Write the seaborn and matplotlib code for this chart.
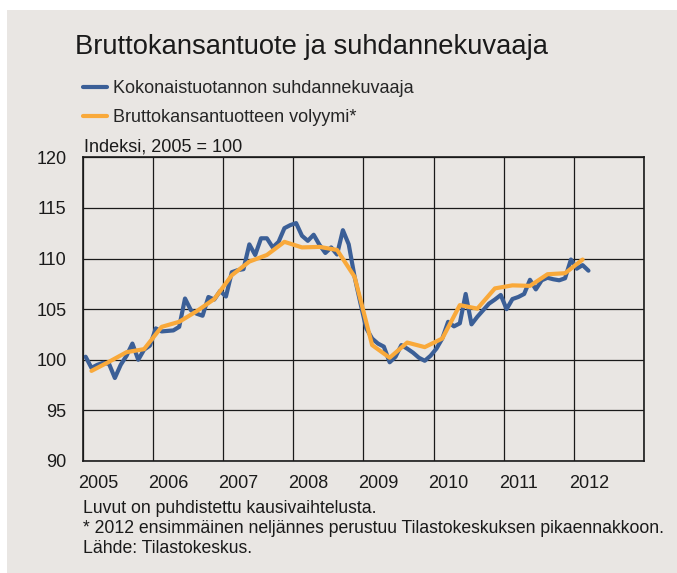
import numpy as np
import pandas as pd
import matplotlib.pyplot as plt
from matplotlib.patches import Rectangle
import seaborn as sns

# Kuukausittainen suhdannekuvaaja, tammikuu 2005 - maaliskuu 2012
suhdanne = [
    100.3, 99.2, 99.5, 99.7, 99.6, 98.2, 99.5, 100.4, 101.6, 100.0, 101.0, 101.4,        # 2005
    103.1, 102.8, 102.85, 102.9, 103.25, 106.05, 104.9, 104.55, 104.35, 106.2, 105.95, 106.8,  # 2006
    106.25, 108.65, 108.85, 108.95, 111.4, 110.35, 112.0, 112.0, 111.1, 111.65, 113.0, 113.3,  # 2007
    113.5, 112.25, 111.75, 112.35, 111.35, 110.55, 111.1, 110.4, 112.8, 111.4, 108.2, 105.6,   # 2008
    103.1, 102.1, 101.6, 101.3, 99.75, 100.3, 101.45, 101.1, 100.7, 100.2, 99.9, 100.4,       # 2009
    101.1, 102.1, 103.75, 103.3, 103.6, 106.5, 103.5, 104.25, 104.9, 105.55, 105.95, 106.4,   # 2010
    105.0, 106.0, 106.2, 106.5, 107.9, 106.95, 107.85, 108.1, 107.95, 107.85, 108.05, 109.9,  # 2011
    109.0, 109.35, 108.8,                                                                     # 2012
]

# Neljännesvuosittainen BKT:n volyymi, 2005Q1 - 2012Q1
bkt = [
    98.9, 99.8, 100.75, 101.05,
    103.25, 103.75, 104.8, 106.0,
    108.35, 109.7, 110.35, 111.65,
    111.1, 111.15, 110.85, 108.2,
    101.45, 100.2, 101.7, 101.25,
    102.1, 105.4, 105.05, 107.05,
    107.35, 107.3, 108.45, 108.55,
    109.9,
]

vuodet = list(range(2005, 2013))
y_ticks = [90, 95, 100, 105, 110, 115, 120]
nimi_sininen = "Kokonaistuotannon suhdannekuvaaja"
nimi_oranssi = "Bruttokansantuotteen volyymi*"

df_kk = pd.DataFrame({"aika": 2005 + (np.arange(len(suhdanne)) + 0.5) / 12, "arvo": suhdanne})
df_nj = pd.DataFrame({"aika": 2005 + (np.arange(len(bkt)) + 0.5) / 4, "arvo": bkt})

sns.set_style("white")
plt.rcParams["font.family"] = ["Liberation Sans", "DejaVu Sans"]

W, H = 677, 573
tausta = "#e9e6e3"
sininen = "#3b5f97"
oranssi = "#f9a93a"
teksti = "#1a1a1a"

fig = plt.figure(figsize=(W / 100, H / 100), dpi=100, facecolor="white")
fig.patches.append(Rectangle((7 / W, 0), 1, 1 - 10 / H, transform=fig.transFigure,
                             facecolor=tausta, edgecolor="none", zorder=-10))

ax = fig.add_axes([82.7 / W, 1 - 461 / H, (644 - 82.7) / W, (461 - 157.3) / H])
ax.set_facecolor(tausta)

sns.lineplot(data=df_kk, x="aika", y="arvo", color=sininen, linewidth=3, ax=ax, label=nimi_sininen)
sns.lineplot(data=df_nj, x="aika", y="arvo", color=oranssi, linewidth=3, ax=ax, label=nimi_oranssi)

ax.set_xlim(2005, 2013)
ax.set_ylim(90, 120)
ax.set_xticks(vuodet + [2013])
ax.set_xticklabels([])
ax.set_xticks([v + 0.215 for v in vuodet], labels=[str(v) for v in vuodet], minor=True)
ax.set_yticks(y_ticks, labels=[str(v) for v in y_ticks])
ax.tick_params(axis="both", which="both", length=0, labelsize=13, colors=teksti)
ax.tick_params(axis="x", which="minor", pad=10)
ax.tick_params(axis="y", pad=11.5)
ax.grid(True, which="major", color=teksti, linewidth=0.9)
ax.set_axisbelow(True)
ax.set_xlabel("")
ax.set_ylabel("")
for s in ax.spines.values():
    s.set_visible(True)
    s.set_color(teksti)
    s.set_linewidth(1.2)

ax.legend(loc="upper left", bbox_to_anchor=(83 / W, 1 - 80 / H), bbox_transform=fig.transFigure,
          frameon=False, fontsize=13, handlelength=1.33, handletextpad=0.33,
          labelspacing=0.68, borderpad=0, borderaxespad=0)

fig.text(75 / W, 1 - 54.3 / H, "Bruttokansantuote ja suhdannekuvaaja", fontsize=19.7,
         va="baseline", ha="left", color=teksti)
fig.text(84 / W, 1 - 151.7 / H, "Indeksi, 2005 = 100", fontsize=13,
         va="baseline", ha="left", color=teksti)

alaviitteet = [
    "Luvut on puhdistettu kausivaihtelusta.",
    "* 2012 ensimmäinen neljännes perustuu Tilastokeskuksen pikaennakkoon.",
    "Lähde: Tilastokeskus.",
]
for i, rivi in enumerate(alaviitteet):
    fig.text(83 / W, 1 - (508.3 + 20.3 * i) / H, rivi, fontsize=12.7,
             va="center", ha="left", color=teksti)

fig.savefig("out.png", dpi=100, facecolor=fig.get_facecolor())
